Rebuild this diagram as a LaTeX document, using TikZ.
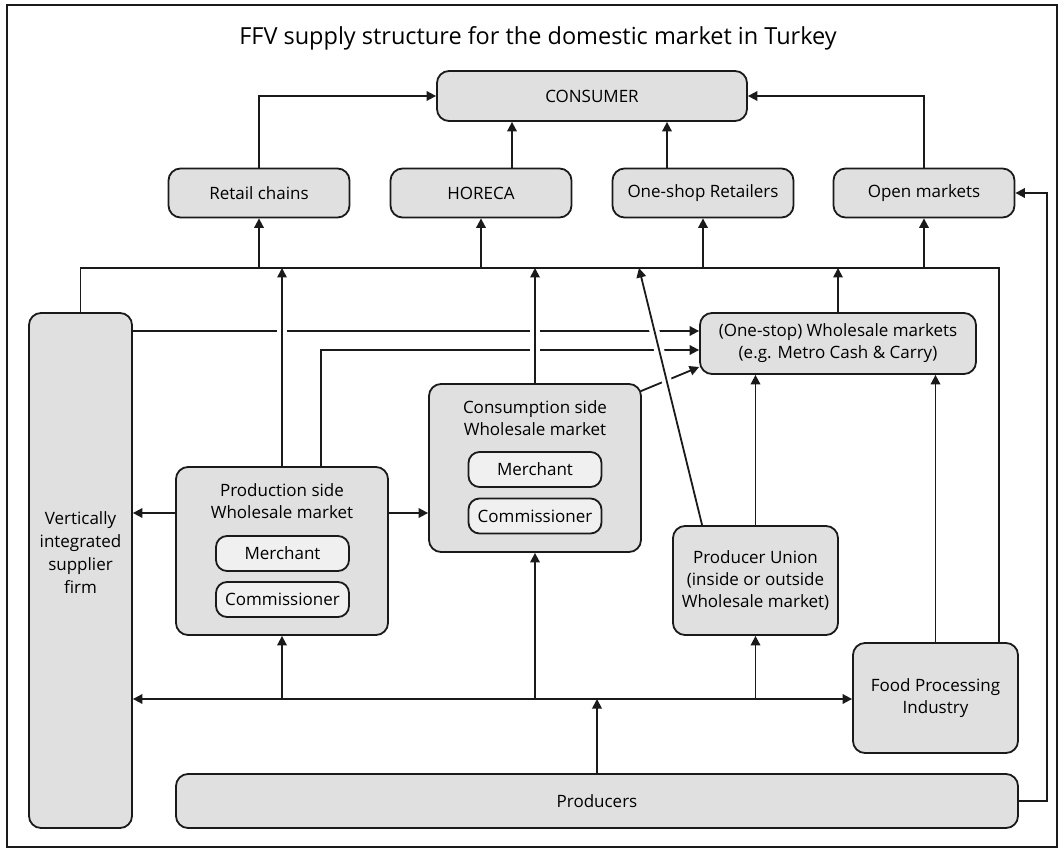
\documentclass[tikz,border=0pt]{standalone}
\usepackage{fontspec}
\setmainfont{Open Sans}
\usetikzlibrary{arrows.meta,calc}
\definecolor{boxgray}{HTML}{E0E0E0}
\definecolor{innergray}{HTML}{F0F0F0}
\definecolor{ink}{HTML}{1A1A1A}
\begin{document}
\begin{tikzpicture}[x=1pt,y=-1pt,
  txtfont/.style={font=\fontsize{17}{22}\selectfont},
  box/.style={draw=ink, fill=boxgray, rounded corners=12pt, line width=1.8pt, align=center, inner sep=0pt, txtfont},
  innerbox/.style={draw=ink, fill=innergray, rounded corners=11pt, line width=1.8pt, align=center, inner sep=0pt, minimum width=133pt, minimum height=35pt, txtfont},
  lbl/.style={align=center, inner sep=0pt, txtfont},
  conn/.style={draw=ink, line width=1.8pt},
  arr/.style={conn, -{Triangle[length=9.5pt,width=9.5pt]}},
  darr/.style={conn, {Triangle[length=9.5pt,width=9.5pt]}-{Triangle[length=9.5pt,width=9.5pt]}},
  gap/.style={draw=white, line width=10pt}
]
\useasboundingbox (0,0) rectangle (1060,850);
\fill[white] (0,0) rectangle (1060,850);
\draw[ink, line width=1.3pt] (7,5) rectangle (1057,847);

\node[lbl, font=\fontsize{23.5}{28}\selectfont] (title) at (538,38) {FFV supply structure for the domestic market in Turkey};

\node[box, minimum width=310pt, minimum height=50pt] (cons) at (592,96) {CONSUMER};
\node[box, minimum width=181pt, minimum height=49pt] (retail) at (259,193) {Retail chains};
\node[box, minimum width=181pt, minimum height=49pt] (horeca) at (481,193) {HORECA};
\node[box, minimum width=181pt, minimum height=49pt] (oneshop) at (703,193) {One-shop Retailers};
\node[box, minimum width=181pt, minimum height=49pt] (open) at (924,193) {Open markets};

\node[box, minimum width=103pt, minimum height=515pt] (vert) at (80.5,570.5) {};
\node[lbl, font=\fontsize{17}{23}\selectfont] (vertt) at (80.5,553) {Vertically\\integrated\\supplier\\firm};

\node[box, minimum width=212pt, minimum height=168pt] (prod) at (282,551) {};
\node[lbl] (prodt) at (282,501) {Production side\\Wholesale market};
\node[innerbox] (pm) at (282.5,553.5) {Merchant};
\node[innerbox] (pc) at (282.5,599.5) {Commissioner};

\node[box, minimum width=212pt, minimum height=168pt] (consw) at (535,468) {};
\node[lbl] (conswt) at (535,418) {Consumption side\\Wholesale market};
\node[innerbox] (cm) at (535,469.5) {Merchant};
\node[innerbox] (cc) at (535,516) {Commissioner};

\node[box, minimum width=276pt, minimum height=61pt] (onestop) at (838,343.5) {(One-stop) Wholesale markets\\(e.g. Metro Cash \& Carry)};
\node[box, minimum width=165pt, minimum height=109pt] (union) at (755.5,580.5) {Producer Union\\(inside or outside\\Wholesale market)};
\node[box, minimum width=165pt, minimum height=110pt] (food) at (935.5,698) {Food Processing\\Industry};
\node[box, minimum width=842pt, minimum height=54pt] (producers) at (597,801) {Producers};

% helper coordinates
\coordinate (busL) at (81,268);
\coordinate (busR) at (999,268);
\coordinate (hx) at (512,0);
\coordinate (ox) at (667,0);
\coordinate (yA) at (0,331);
\coordinate (yB) at (0,350);
\coordinate (xB) at (321,0);
\coordinate (yS) at (0,513);
\coordinate (lb) at (0,699);
\coordinate (rx) at (1047,0);
\coordinate (dU) at ($(union.north west)+(30,0)$);
\coordinate (dB) at (639,268);
\coordinate (c3s) at ($(consw.north east)+(-1,8)$);
\coordinate (c3e) at ($(onestop.west)+(0,23.5)$);

% into consumer
\draw[arr] (retail.north) |- (cons.west);
\draw[arr] (open.north) |- (cons.east);
\draw[arr] (horeca.north -| hx) -- (cons.south -| hx);
\draw[arr] (oneshop.north -| ox) -- (cons.south -| ox);

% upper bus
\draw[conn] (vert.north) -- (vert.north |- busL) -- (busR) -- (busR |- food.north);
\draw[arr] (retail.south |- busL) -- (retail.south);
\draw[arr] (horeca.south |- busL) -- (horeca.south);
\draw[arr] (oneshop.south |- busL) -- (oneshop.south);
\draw[arr] (open.south |- busL) -- (open.south);

% into one-stop wholesale
\draw[arr] (vert.east |- yA) -- (onestop.west |- yA);
\draw[arr] (prod.north -| xB) |- (onestop.west |- yB);
\draw[arr] (c3s) -- (c3e);

% gaps at crossings
\draw[gap] ($(prod.north |- yA)+(0,-8)$) -- ($(prod.north |- yA)+(0,8)$);
\draw[gap] ($(consw.north |- yA)+(0,-8)$) -- ($(consw.north |- yB)+(0,8)$);
\draw[gap] ($(dU)!0.5!(dB)$) -- ($(dU)!0.8!(dB)$);

% into upper bus
\draw[arr] (prod.north) -- (prod.north |- busL);
\draw[arr] (consw.north) -- (consw.north |- busL);
\draw[arr] (dU) -- (dB);
\draw[arr] (onestop.north) -- (onestop.north |- busL);

% into one-stop from below
\draw[arr] (union.north) -- (union.north |- onestop.south);
\draw[arr] (food.north) -- (food.north |- onestop.south);

% side arrows of production side market
\draw[arr] (prod.west |- yS) -- (vert.east |- yS);
\draw[arr] (prod.east |- yS) -- (consw.west |- yS);

% lower bus
\draw[darr] (vert.east |- lb) -- (food.west |- lb);
\draw[arr] (prod.south |- lb) -- (prod.south);
\draw[arr] (consw.south |- lb) -- (consw.south);
\draw[arr] (union.south |- lb) -- (union.south);
\draw[arr] (producers.north) -- (producers.north |- lb);

% producers to open markets
\draw[arr] (producers.east) -| (rx |- open.east) -- (open.east);
\end{tikzpicture}
\end{document}
